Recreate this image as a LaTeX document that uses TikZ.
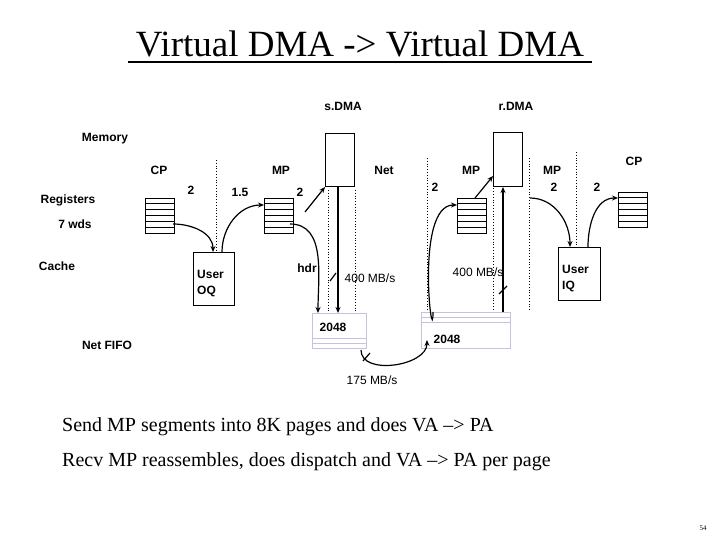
\documentclass[tikz,border=0pt]{standalone}
\usepackage{fontspec}
\setmainfont{Liberation Serif}
\newfontfamily\sans{Liberation Sans}
\usetikzlibrary{arrows.meta}
\definecolor{fifoc}{RGB}{195,195,225}
\begin{document}
\begin{tikzpicture}[x=1pt,y=-1pt,
  lab/.style={font=\sans\fontsize{12}{14}\selectfont\bfseries,inner sep=0pt},
  labr/.style={font=\sans\fontsize{12}{14}\selectfont,inner sep=0pt},
  box/.style={draw,line width=1pt,minimum width=0pt,inner sep=0pt},
  arr/.style={line width=1.2pt,-{Stealth[length=6pt,width=5pt]}},
  dots/.style={dotted,line width=0.8pt},
  fifo/.style={draw=fifoc,line width=1pt,fill=white},
  tick/.style={line width=1.2pt}]
\useasboundingbox (0,0) rectangle (720,540);
% title
\node[font=\fontsize{37}{40}\selectfont,inner sep=0pt] (title) at (360,44) {Virtual DMA -> Virtual DMA};
\draw[line width=1.2pt] (128,62) -- (592,62);
% labels
\node[lab] (sdma) at (343,106) {s.DMA};
\node[lab] (rdma) at (516,106) {r.DMA};
\node[lab] (mem) at (105,139) {Memory};
\node[lab] (cp1) at (159,170) {CP};
\node[lab] (mp1) at (281,170) {MP};
\node[lab] (net) at (384,170) {Net};
\node[lab] (mp2) at (471,170) {MP};
\node[lab] (mp3) at (552,170) {MP};
\node[lab] (cp2) at (634,161) {CP};
\node[lab] (reg) at (68,200) {Registers};
\node[lab] (wds) at (75,224) {7 wds};
\node[lab] (cache) at (57,266) {Cache};
\node[lab] (nf) at (107,345) {Net FIFO};
\node[lab] (n1) at (191,190) {2};
\node[lab] (n2) at (240,192) {1.5};
\node[lab] (n3) at (300,192) {2};
\node[lab] (n4) at (435,187) {2};
\node[lab] (n5) at (554,187) {2};
\node[lab] (n6) at (597,187) {2};
\node[lab] (hdr) at (307,268) {hdr};
\node[labr] (r1) at (370,278) {400 MB/s};
\node[labr] (r2) at (478,272) {400 MB/s};
\node[labr] (r3) at (372,380) {175 MB/s};
% dotted lines
\draw[dots] (216,160) -- (216,250);
\draw[dots] (328,190) -- (328,312);
\draw[dots] (355,190) -- (355,312);
\draw[dots] (427,158) -- (427,310);
\draw[dots] (493,180) -- (493,310);
\draw[dots] (529,158) -- (529,310);
\draw[dots] (576,152) -- (576,245);
% stacks
\foreach \n/\x/\y in {s1/145/198,s2/264/198,s3/457/198,s4/618/192}{
  \node[box,minimum width=29pt,minimum height=35pt,anchor=north west] (\n) at (\x,\y) {};
  \foreach \k in {1,...,5}{\draw[line width=1pt] (\x,\y+\k*35/6) -- ++(29,0);}
}
% boxes
\node[box,minimum width=29pt,minimum height=53pt,anchor=north west] (sbox) at (325,133) {};
\node[box,minimum width=29pt,minimum height=54pt,anchor=north west] (rbox) at (493,132) {};
\node[box,minimum width=41pt,minimum height=53pt,anchor=north west] (oq) at (193,252) {};
\node[lab,anchor=north west,align=left] (oqt) at (197,270) {User\\[2pt]OQ};
\node[box,minimum width=42pt,minimum height=53pt,anchor=north west] (iq) at (558,247) {};
\node[lab,anchor=north west,align=left] (iqt) at (562,265) {User\\[2pt]IQ};
% fifos
\node[fifo,minimum width=54pt,minimum height=35pt,anchor=north west,inner sep=0pt] (f1) at (312,313) {};
\draw[draw=fifoc,line width=1pt] (312,338) -- (366,338) (312,343) -- (366,343);
\node[lab] (f1t) at (333,327) {2048};
\node[fifo,minimum width=89pt,minimum height=36pt,anchor=north west,inner sep=0pt] (f2) at (421,312) {};
\draw[draw=fifoc,line width=1pt] (421,317) -- (510,317) (421,322) -- (510,322);
\node[lab] (f2t) at (447,339) {2048};
% arrows
\draw[arr] (173,224) to[out=0,in=90] (213,252);
\draw[arr] (222,252) to[out=90,in=180] (264,205);
\draw[arr] (305,212) -- (325,187);
\draw[arr] (290,224) to[out=0,in=90] (318,313);
\draw[arr] (338,186) -- (338,313);
\draw[tick] (330,281) -- (336,273);
\draw[arr] (361,350) to[out=-90,in=-90] (427,340);
\draw[tick] (363,361) -- (370,353);
\draw[arr] (433,312) to[out=-90,in=180] (457,205);
\draw[arr] (475,198) -- (493,176);
\draw[arr] (503,312) -- (503,187);
\draw[tick] (499,294) -- (507,286);
\draw[arr] (530,198) to[out=0,in=90] (570,247);
\draw[arr] (588,247) to[out=90,in=180] (618,198);
% bottom text
\node[font=\fontsize{20}{22}\selectfont,anchor=west,inner sep=0pt] (t1) at (62,427) {Send MP segments into 8K pages and does VA –> PA};
\node[font=\fontsize{20}{22}\selectfont,anchor=west,inner sep=0pt] (t2) at (62,462) {Recv MP reassembles, does dispatch and VA –> PA per page};
\node[font=\fontsize{7}{8}\selectfont,inner sep=0pt] (pg) at (703,528) {54};
\end{tikzpicture}
\end{document}
